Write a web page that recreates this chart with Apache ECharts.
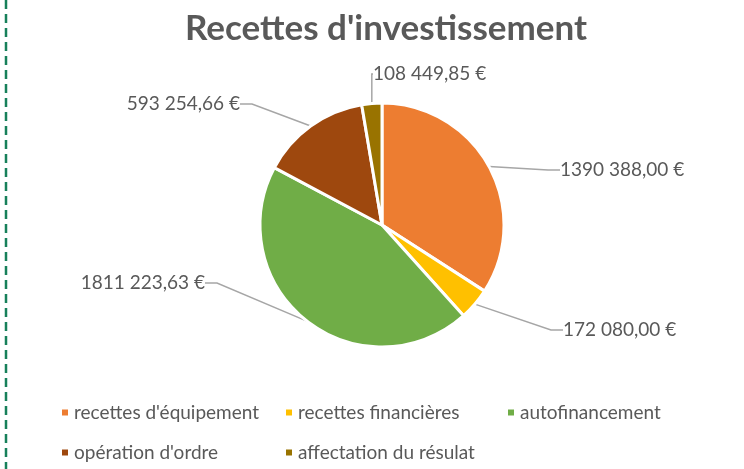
<!DOCTYPE html>
<html>
<head>
<meta charset="utf-8">
<script src="https://cdn.jsdelivr.net/npm/echarts@6/dist/echarts.min.js"></script>
<style>
  html, body { margin: 0; padding: 0; background: #fff; }
  #chart { width: 744px; height: 469px; }
</style>
</head>
<body>
<div id="chart"></div>
<script>
// données du graphique
const categories = ["recettes d'équipement", 'recettes financières', 'autofinancement', "opération d'ordre", 'affectation du résulat']
const values = [1390388.00, 172080.00, 1811223.63, 593254.66, 108449.85]
const colors = ['#ED7D31', '#FFC000', '#70AD47', '#9E480E', '#997300']

// format "1390 388,00 €" comme sur l'image
function euro(v) {
  const cents = Math.round(v * 100)
  const ent = Math.floor(cents / 100)
  const dec = String(cents % 100).padStart(2, '0')
  const mil = Math.floor(ent / 1000)
  const reste = String(ent % 1000).padStart(3, '0')
  return (mil > 0 ? mil + ' ' + reste : String(ent % 1000)) + ',' + dec + ' €'
}

const chart = echarts.init(document.getElementById('chart'))
const font = 'Lato, "Open Sans", sans-serif'

// emplacement des étiquettes (comme Excel)
const labelPos = [
  { x: 560, y: 170, align: 'left' },
  { x: 563, y: 330, align: 'left' },
  { x: 205, y: 283, align: 'right' },
  { x: 240, y: 104, align: 'right' },
  { x: 373, y: 74, align: 'left' }
]

// une légende par case pour garder les colonnes
const legendCols = [60, 284, 506, 60, 284]
const legendRows = [403, 403, 403, 443, 443]
const legends = categories.map((c, i) => ({
  data: [c],
  left: legendCols[i],
  top: legendRows[i],
  padding: 0,
  itemWidth: 8,
  itemHeight: 8,
  itemGap: 6,
  icon: 'rect',
  selectedMode: false,
  textStyle: { fontFamily: font, fontSize: 19, color: '#595959' }
}))

chart.setOption({
  animation: false,
  color: colors,
  title: {
    text: "Recettes d'investissement",
    left: 381,
    textAlign: 'center',
    top: 6,
    textStyle: { fontFamily: font, fontSize: 35, fontWeight: 'bold', color: '#595959' }
  },
  legend: legends,
  graphic: [{
    type: 'line',
    shape: { x1: 6, y1: 0, x2: 6, y2: 469 },
    style: { stroke: '#17805a', lineWidth: 2.5, lineDash: [9, 5] }
  }],
  series: [{
    type: 'pie',
    center: [382, 225],
    radius: 122,
    startAngle: 90,
    clockwise: true,
    itemStyle: { borderColor: '#fff', borderWidth: 3 },
    label: {
      show: true,
      position: 'outside',
      formatter: p => euro(p.value),
      fontFamily: font,
      fontSize: 19,
      color: '#595959'
    },
    labelLine: {
      show: true,
      length: 20,
      length2: 12,
      lineStyle: { color: '#a6a6a6', width: 1.5 }
    },
    labelLayout: p => ({
      x: labelPos[p.dataIndex].x,
      y: labelPos[p.dataIndex].y,
      align: labelPos[p.dataIndex].align,
      verticalAlign: 'middle'
    }),
    data: categories.map((c, i) => ({ name: c, value: values[i] }))
  }]
})
</script>
</body>
</html>
